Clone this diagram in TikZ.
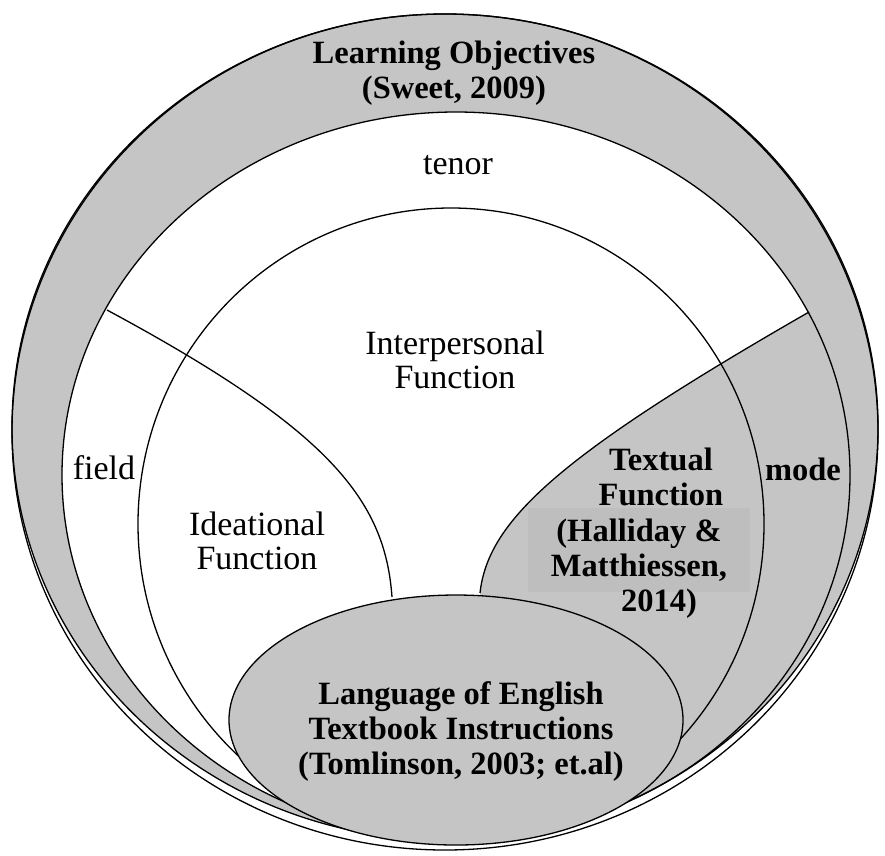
\documentclass[tikz,border=0pt]{standalone}
\usepackage{fontspec}
\setmainfont{Liberation Serif}
\usetikzlibrary{positioning}
\definecolor{ringgray}{RGB}{197,197,197}
\definecolor{boxgray}{RGB}{190,190,190}
\tikzset{
    outline/.style={draw=black,line width=1.3pt},
    plain/.style={align=center,inner sep=0pt,font=\fontsize{34}{34}\selectfont},
    heading/.style={align=center,inner sep=0pt,font=\bfseries\fontsize{32.5}{35}\selectfont}
}

\begin{document}
\begin{tikzpicture}[x=1pt,y=-1pt]
    \useasboundingbox (0,0) rectangle (885,855);

    % ends of the two dividing curves
    \coordinate (ltop)  at (107,310);
    \coordinate (lfoot) at (392,597);
    \coordinate (rtop)  at (809,312);
    \coordinate (rfoot) at (480,593);

    % grey ring
    \fill[ringgray,even odd rule]
        (445,427) ellipse [x radius=433,y radius=413]
        (456,475) ellipse [x radius=394,y radius=363];

    % grey mode / textual part
    \begin{scope}
        \clip (456,475) ellipse [x radius=394,y radius=363];
        \fill[ringgray] (900,258) -- (rtop) .. controls (560,455) and (488,520) .. (rfoot)
            -- (480,900) -- (900,900) -- cycle;
    \end{scope}

    % inner ellipse and dividers
    \draw[outline] (451,524) ellipse [x radius=313,y radius=316];
    \draw[outline] (ltop) .. controls (330,430) and (385,500) .. (lfoot);
    \draw[outline] (rtop) .. controls (560,455) and (488,520) .. (rfoot);

    % outer rings
    \draw[outline] (445,432) ellipse [x radius=433,y radius=418];
    \draw[outline] (445,427) ellipse [x radius=433,y radius=413];
    \draw[outline] (456,475) ellipse [x radius=394,y radius=363];

    % bottom ellipse
    \draw[outline,fill=ringgray] (456,720) ellipse [x radius=227,y radius=125];

    \node[heading] (objectives) at (454,73) {Learning Objectives\\(Sweet, 2009)};
    \node[plain]   (tenor) at (458,165) {tenor};
    \node[plain]   (interpersonal) at (455,360) {Interpersonal\\Function};
    \node[plain]   (field) at (104,468) {field};
    \node[plain]   (ideational) at (257,541) {Ideational\\Function};
    \node[heading] (textual) at (661,477) {Textual\\Function};
    \node[heading,fill=boxgray,minimum width=222pt,minimum height=84pt] (halliday) at (639,550) {(Halliday \&\\Matthiessen,};
    \node[heading] (year) at (659,604) {2014)};
    \node[heading] (mode) at (803,469) {mode};
    \node[heading] (language) at (461,732) {Language of English\\Textbook Instructions\\(Tomlinson, 2003; et.al)};
\end{tikzpicture}
\end{document}
